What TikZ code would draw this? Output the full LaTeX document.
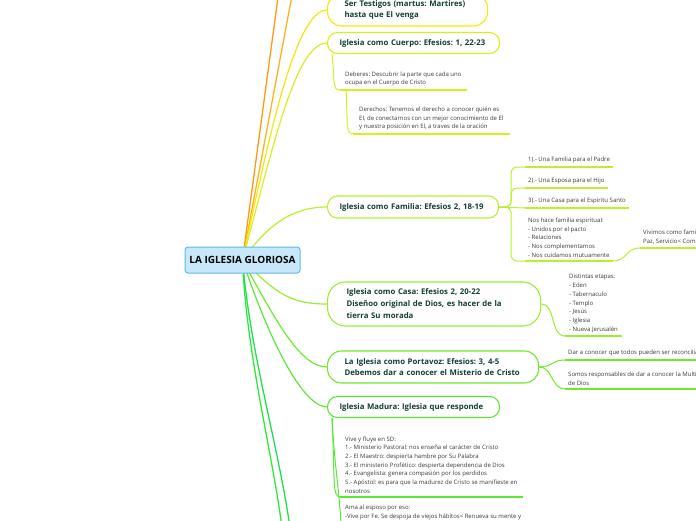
\documentclass[tikz,border=0pt]{standalone}
\usepackage{fontspec}
\setmainfont{Open Sans}
\usetikzlibrary{backgrounds}

\definecolor{hubfill}{HTML}{C6E8FA}
\definecolor{hubline}{HTML}{62B8E8}
\definecolor{topictext}{HTML}{123F30}
\definecolor{leaftext}{HTML}{3A3A3A}
\definecolor{orangeA}{HTML}{FF9A12}
\definecolor{orangeB}{HTML}{FFB21E}
\definecolor{yellowA}{HTML}{F3E70C}
\definecolor{limeA}{HTML}{D6F01E}
\definecolor{limeB}{HTML}{B8F032}
\definecolor{greenA}{HTML}{9AEE30}
\definecolor{greenB}{HTML}{6FEA2A}
\definecolor{greenC}{HTML}{5AE836}
\definecolor{greenD}{HTML}{2EEA3A}
\definecolor{greenE}{HTML}{22E04A}

\newcommand{\leaffont}{\frenchspacing\fontsize{6}{8.7}\selectfont}
\newcommand{\topicfont}{\frenchspacing\bfseries\fontsize{7.8}{11.5}\selectfont}

\tikzset{
  hub/.style={draw=hubline, fill=hubfill, line width=1pt, rounded corners=3pt,
    minimum width=115pt, minimum height=26pt, inner sep=2pt,
    font=\bfseries\fontsize{10}{11}\selectfont},
  topic/.style={draw=#1, fill=white, line width=1.1pt, rounded corners=10pt,
    anchor=west, align=left, text=topictext, font=\topicfont, inner ysep=2pt},
  leaf/.style={anchor=south west, align=left, text=leaftext, font=\leaffont,
    inner xsep=5pt, inner ysep=3.5pt},
  link/.style={draw=#1, line width=1pt},
  uline/.style={draw=#1, line width=1.4pt},
}

\begin{document}
\begin{tikzpicture}[x=1pt, y=-1pt]
  \clip (0,0) rectangle (696,520);

  % central topic
  \node[hub] (root) at (242.5,260) {LA IGLESIA GLORIOSA};

  % main topics
  \node[topic=yellowA, rounded corners=14pt, inner xsep=17pt, text width=126pt, minimum height=32pt] (testigos) at (327,10)
    {Ser Testigos (martus: Martires)\\hasta que El venga};
  \node[topic=limeA, inner xsep=12pt, text width=148pt, minimum height=21pt] (cuerpo) at (327,43)
    {Iglesia como Cuerpo: Efesios: 1, 22-23};
  \node[topic=limeB, inner xsep=12pt, text width=147pt, minimum height=22pt] (familia) at (327,207)
    {Iglesia como Familia: Efesios 2, 18-19};
  \node[topic=greenA, rounded corners=18pt, inner xsep=19pt, text width=175pt, minimum height=44pt,
    font=\frenchspacing\bfseries\fontsize{7.8}{12}\selectfont] (casa) at (327,304)
    {Iglesia como Casa: Efesios 2, 20-22\\Diseñoo original de Dios, es hacer de la\\tierra Su morada};
  \node[topic=greenB, rounded corners=14pt, inner xsep=17pt, text width=177pt, minimum height=32pt] (portavoz) at (327,367)
    {La Iglesia como Portavoz: Efesios: 3, 4-5\\Debemos dar a conocer el Misterio de Cristo};
  \node[topic=greenC, inner xsep=12pt, text width=148pt, minimum height=21pt] (madura) at (327,407)
    {Iglesia Madura: Iglesia que responde};

  % subtopics
  \node[leaf] (deberes) at (340,90)
    {Deberes: Descubrir la parte que cada uno\\ocupa en el Cuerpo de Cristo};
  \node[leaf, inner xsep=6pt] (derechos) at (353,134)
    {Derechos: Tenemos el derecho a conocer quién es\\El, de conectarnos con un mejor conocimiento de El\\y nuestra posición en El, a traves de la oración};
  \node[leaf, inner xsep=3pt] (padre) at (525,167) {1).- Una Familia para el Padre};
  \node[leaf, inner xsep=3pt] (hijo) at (525,188) {2).- Una Esposa para el Hijo};
  \node[leaf, inner xsep=3pt] (espiritu) at (525,208) {3).- Una Casa para el Espíritu Santo};
  \node[leaf, inner xsep=3pt] (espiritual) at (525,261)
    {Nos hace familia espiritual:\\- Unidos por el pacto\\- Relaciones\\- Nos complementamos\\- Nos cuidamos mutuamente};
  \node[leaf, inner xsep=3pt] (vivimos) at (640,248)
    {Vivimos como familia\\Paz, Servicio< Comunión};
  \node[leaf, inner xsep=4pt] (etapas) at (565,336)
    {Distintas etapas:\\- Eden\\- Tabernaculo\\- Templo\\- Jesús\\- Iglesia\\- Nueva Jerusalén};
  \node[leaf, inner xsep=3pt] (reconciliar) at (565,360)
    {Dar a conocer que todos pueden ser reconciliados};
  \node[leaf, inner xsep=3pt] (multiforme) at (565,389)
    {Somos responsables de dar a conocer la Multiforme sabiduría\\de Dios};
  \node[leaf] (vive) at (340,497)
    {Vive y fluye en SD:\\1.- Ministerio Pastoral: nos enseña el carácter de Cristo\\2.- El Maestro: despierta hambre por Su Palabra\\3.- El ministerio Profético: despierta dependencia de Dios\\4.- Evangelista: genera compasión por los perdidos\\5.- Apóstol: es para que la madurez de Cristo se manifieste en\\nosotros};
  \node[leaf, anchor=north west] (ama) at (340,501.5)
    {Ama al esposo por eso:\\-Vive por Fe. Se despoja de viejos hábitos< Renueva su mente y};
  \coordinate (amaend) at (342,560);
  \coordinate (arriba1) at (279,-10);
  \coordinate (arriba2) at (293,-10);
  \coordinate (abajo1) at (284,545);
  \coordinate (abajo2) at (292,545);

  % connectors from the centre
  \begin{scope}[on background layer]
    \draw[link=orangeA, line width=1.3pt] (root.center) -- (arriba1);
    \draw[link=orangeB, line width=1.3pt] (root.center) -- (arriba2);
    \draw[link=yellowA, line width=1.2pt] (root.center) .. controls +(26,-120) and +(-32,0) .. (testigos.west);
    \draw[link=limeA, line width=1.2pt] (root.center) .. controls +(30,-110) and +(-32,0) .. (cuerpo.west);
    \draw[link=limeB, line width=1.2pt] (root.center) .. controls +(25,-35) and +(-35,0) .. (familia.west);
    \draw[link=greenA, line width=1.2pt] (root.center) .. controls +(35,35) and +(-35,0) .. (casa.west);
    \draw[link=greenB, line width=1.2pt] (root.center) .. controls +(33,60) and +(-27,0) .. (portavoz.west);
    \draw[link=greenC, line width=1.2pt] (root.center) .. controls +(30,90) and +(-22,0) .. (madura.west);
    \draw[link=greenD, line width=1.3pt] (root.center) .. controls +(4,100) and +(-8,-80) .. (abajo1);
    \draw[link=greenE, line width=1.3pt] (root.center) .. controls +(8,100) and +(-8,-80) .. (abajo2);
  \end{scope}

  % connectors to subtopics
  \draw[link=limeA] ([xshift=5pt]cuerpo.south west) .. controls +(3,28) and +(-8,0) .. (deberes.south west);
  \draw[link=limeA] ([xshift=6pt]deberes.south west) .. controls +(2,30) and +(-8,0) .. (derechos.south west);
  \draw[link=limeB, rounded corners=6pt] (familia.east) -- ++(12,0) |- (padre.south west);
  \draw[link=limeB, rounded corners=6pt] (familia.east) -- ++(12,0) |- (hijo.south west);
  \draw[link=limeB] (familia.east) -- (espiritu.south west);
  \draw[link=limeB, rounded corners=6pt] (familia.east) -- ++(12,0) |- (espiritual.south west);
  \draw[link=limeB] (espiritual.south east) .. controls +(15,0) and +(-15,0) .. (vivimos.south west);
  \draw[link=greenA] (casa.east) .. controls +(15,0) and +(-15,0) .. (etapas.south west);
  \draw[link=greenB] (portavoz.east) .. controls +(14,0) and +(-14,0) .. (reconciliar.south west);
  \draw[link=greenB] (portavoz.east) .. controls +(14,0) and +(-14,0) .. (multiforme.south west);
  \draw[link=greenC] ([xshift=5pt]madura.south west) .. controls +(3,60) and +(-8,0) .. (vive.south west);
  \draw[link=greenC] ([xshift=5pt]madura.south west) .. controls +(3,60) and +(0,-60) .. (amaend);

  % underlines
  \draw[uline=limeA] (deberes.south west) -- (deberes.south east);
  \draw[uline=limeA] (derechos.south west) -- (derechos.south east);
  \draw[uline=limeB] (padre.south west) -- (padre.south east);
  \draw[uline=limeB] (hijo.south west) -- (hijo.south east);
  \draw[uline=limeB] (espiritu.south west) -- (espiritu.south east);
  \draw[uline=limeB] (espiritual.south west) -- (espiritual.south east);
  \draw[uline=limeB] (vivimos.south west) -- (vivimos.south east);
  \draw[uline=greenA] (etapas.south west) -- (etapas.south east);
  \draw[uline=greenB] (reconciliar.south west) -- (reconciliar.south east);
  \draw[uline=greenB] (multiforme.south west) -- (multiforme.south east);
  \draw[uline=greenC] (vive.south west) -- (vive.south east);
\end{tikzpicture}
\end{document}
